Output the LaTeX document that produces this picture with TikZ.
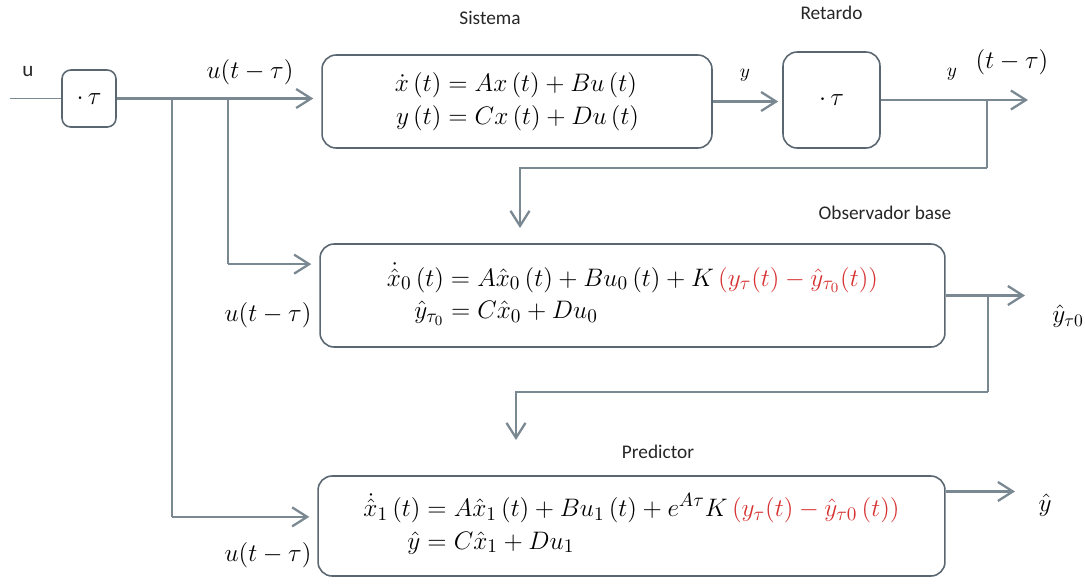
\documentclass[tikz,border=0pt]{standalone}
\usepackage{amsmath}
\usepackage{fontspec}
\setmainfont{Carlito}
\usepackage{tikz}
\usetikzlibrary{arrows.meta, positioning, calc}
\definecolor{linegray}{RGB}{122,136,146}
\definecolor{boxgray}{RGB}{90,102,112}
\definecolor{errred}{RGB}{214,50,50}
\setlength{\jot}{0pt}
\tikzstyle{block} = [rectangle, rounded corners=8pt, draw=boxgray, line width=0.9pt, align=center, font=\fontsize{15.5}{18.5}\selectfont]
\tikzstyle{arrow} = [linegray, line width=1.3pt, -{Straight Barb[length=3mm,width=3.8mm]}, shorten >=1.6mm]
\tikzstyle{link} = [linegray, line width=0.8pt]
\tikzstyle{title} = [font=\fontsize{11}{13}\selectfont, text=black!85]
\tikzstyle{sig} = [font=\fontsize{14}{17}\selectfont]

\begin{document}
\begin{tikzpicture}[x=0.02cm, y=-0.02cm]
\useasboundingbox (0,0) rectangle (1085,583);

% blocks
\node (tauin) [block, rounded corners=5pt, minimum width=1.08cm, minimum height=1.14cm] at (89,98.5) {$\cdot\,\tau$};
\node (sis) [block, minimum width=7.8cm, minimum height=1.86cm] at (517,101.5)
  {$\begin{aligned}\dot x\,(t) &= Ax\,(t)+Bu\,(t)\\ y\,(t) &= Cx\,(t)+Du\,(t)\end{aligned}$};
\node (ret) [block, minimum width=1.94cm, minimum height=1.92cm] at (831.5,100) {$\cdot\,\tau$};
\node (obs) [block, minimum width=12.5cm, minimum height=2.06cm] at (632.5,295.5)
  {$\begin{aligned}\dot{\hat x}_0\,(t) &= A\hat x_0\,(t)+Bu_0\,(t)+K\,{\color{errred}(y_\tau(t)-\hat y_{\tau_0}(t))}\\ \hat y_{\tau_0} &= C\hat x_0+Du_0\end{aligned}$};
\node (pred) [block, minimum width=12.54cm, minimum height=2cm] at (631.5,526)
  {$\begin{aligned}\dot{\hat x}_1\,(t) &= A\hat x_1\,(t)+Bu_1\,(t)+e^{A\tau}K\,{\color{errred}(y_\tau(t)-\hat y_{\tau 0}\,(t))}\\ \hat y &= C\hat x_1+Du_1\end{aligned}$};

% titles
\node (tsis) [title] at (490,18) {Sistema};
\node (tret) [title, above=0.5cm of ret] {Retardo};
\node (tobs) [title] at (885,213) {Observador base};
\node (tpred) [title] at (658,452) {Predictor};

% free ends
\coordinate (uin) at (10,98.5);
\coordinate (tapP) at (172,98.5);
\coordinate (tapO) at (228,98.5);
\coordinate (yout) at (1028,100);
\coordinate (fbtap) at (987,100);
\coordinate (fbc) at (987,168);
\coordinate (fbend) at (520,228);
\coordinate (obsin) at ($(obs.north west)!0.2!(obs.south west)$);
\coordinate (y0out) at (1025,295.5);
\coordinate (y0tap) at (988,295.5);
\coordinate (y0c) at (988,392);
\coordinate (predfb) at (516,440);
\coordinate (predin) at ($(pred.north west)!0.41!(pred.south west)$);
\coordinate (predout) at ($(pred.north east)!0.16!(pred.south east)$);
\coordinate (yhat) at (1015,492);

% connectors
\draw [link] (uin) -- (tauin);
\draw [arrow] (tauin.east) -- (tauin.east -| sis.west);
\draw [arrow, shorten >=0.8mm] (sis.east) -- (sis.east -| ret.west);
\draw [arrow, shorten >=0pt] (ret.east) -- (yout);
\draw [link] (fbtap) -- (fbc);
\draw [arrow, shorten >=0pt] (fbc) -| (fbend);
\draw [link] (tapO) -- (tapO |- obsin);
\draw [arrow] (tapO |- obsin) -- (obsin);
\draw [arrow, shorten >=0pt] (obs.east) -- (y0out);
\draw [link] (y0tap) -- (y0c);
\draw [arrow, shorten >=0pt] (y0c) -| (predfb);
\draw [link] (tapP) -- (tapP |- predin);
\draw [arrow] (tapP |- predin) -- (predin);
\draw [arrow, shorten >=0pt] (predout) -- (predout -| yhat);

% signal labels
\node (lu) [title, font=\fontsize{12}{14}\selectfont] at (28,72) {u};
\node (lud) [sig] at (250,72) {$u(t-\tau)$};
\node (ly) [sig, font=\fontsize{11}{13}\selectfont] at (745,75) {$y$};
\node (lyd) [sig, font=\fontsize{11}{13}\selectfont] at (952,74) {$y$};
\node (ltd) [sig] at (1012,62) {$(t-\tau)$};
\node (lyo) [sig] at (1068,316) {$\hat y_{\tau 0}$};
\node (luo) [sig] at (268,315) {$u(t-\tau)$};
\node (lyh) [sig] at (1045,505) {$\hat y$};
\node (lup) [sig] at (268,555) {$u(t-\tau)$};

\end{tikzpicture}
\end{document}
